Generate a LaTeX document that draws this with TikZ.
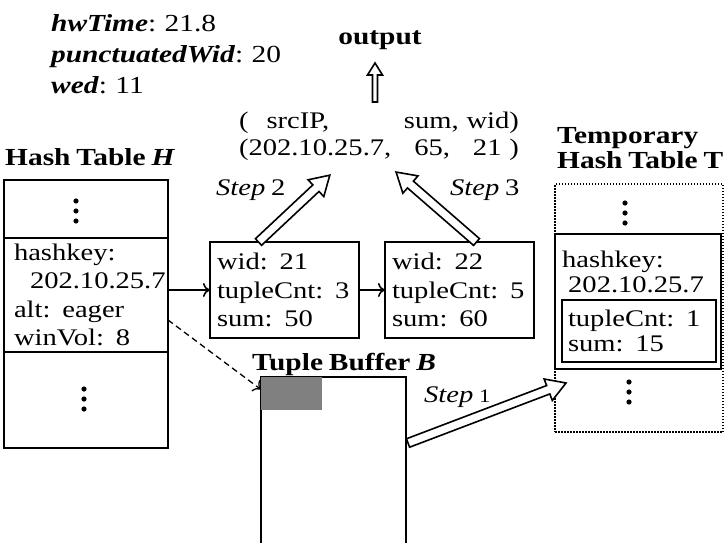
\documentclass[tikz,border=0pt]{standalone}
\usepackage{fontspec}
\setmainfont{Liberation Serif}[FakeStretch=1.2,WordSpace=0.8]
\usetikzlibrary{positioning,calc,arrows.meta}

% hollow block arrow: from, to, half shaft, half head, head length
\newcommand\hollowarrow[5]{%
  \draw[fill=white,line width=1.6pt,line join=miter]
    let \p1=(#1), \p2=(#2),
        \n1={atan2(\y2-\y1,\x2-\x1)}, \n2={veclen(\x2-\x1,\y2-\y1)} in
    [shift={(\p1)},rotate=\n1]
    (0pt,-#3pt) -- ({\n2-#5pt},-#3pt) -- ({\n2-#5pt},-#4pt) -- ({\n2+0pt},0pt)
    -- ({\n2-#5pt},#4pt) -- ({\n2-#5pt},#3pt) -- (0pt,#3pt) -- cycle;}

\begin{document}
\begin{tikzpicture}[x=1pt,y=-1pt,
    font=\fontsize{23.8}{28.5}\selectfont,
    cell/.style={draw,line width=1.8pt,outer sep=0pt,inner sep=0pt,minimum width=164pt},
    listbox/.style={draw,line width=1.8pt,outer sep=0pt,inner xsep=7pt,inner ysep=0pt,
      minimum width=149pt,minimum height=96pt,text width=135pt,align=left},
    txt/.style={inner sep=0pt},
    head/.style={inner sep=0pt,font=\fontsize{24.5}{25}\selectfont\bfseries},
    link/.style={-{To[length=7pt,width=14pt]},line width=1.6pt}]
  % Definitions
  \def\shaft{4.5}
  \def\head{11.5}
  \def\tip{19}
  \useasboundingbox (0,0) rectangle (725,543);

  % State and output tuple
  \node[txt,anchor=west,align=left,font=\fontsize{24.5}{31}\selectfont] (state) at (51,54)
    {\textbf{\textit{hwTime}}: 21.8\\\textbf{\textit{punctuatedWid}}: 20\\\textbf{\textit{wed}}: 11};
  \node[head,anchor=base] (out) at (380,45) {output};
  \node[txt,text width=280pt,align=left,font=\fontsize{23.8}{27}\selectfont] (tuple) at (379,136)
    {(\hspace{18pt}srcIP,\hfill sum, wid)\\(202.10.25.7,\hfill 65,\hfill 21 )};

  % Hash table H
  \node[head,anchor=base west] (hname) at (5,165) {Hash Table \textit{H}};
  \node[cell,anchor=north west,minimum height=58pt] (htop) at (4,180) {};
  \node[cell,below=0pt of htop,minimum height=114pt,text width=144pt,align=left] (hrow)
    {hashkey:\\\hspace*{16pt}202.10.25.7\\alt: eager\\winVol: 8};
  \node[cell,below=0pt of hrow,minimum height=96pt] (hbot) {};

  % Window list
  \node[listbox,anchor=north west] (w21) at (210,242) {wid: 21\\tupleCnt: 3\\sum: 50};
  \node[listbox,right=26pt of w21] (w22) {wid: 22\\tupleCnt: 5\\sum: 60};

  % Temporary hash table T
  \node[head,anchor=west,align=left] (tname) at (557,148) {Temporary\\Hash Table T};
  \node[draw,line width=1.5pt,dash pattern=on 1.5pt off 1.5pt,outer sep=0pt,inner sep=0pt,
    minimum width=168pt,minimum height=248pt,anchor=north west] (tmp) at (555,184) {};
  \node[draw,line width=1.8pt,outer sep=0pt,inner sep=0pt,
    minimum width=166pt,minimum height=135pt,anchor=north west] (trow) at (555,234) {};
  \node[txt,anchor=north west,align=left,font=\fontsize{23.8}{25}\selectfont] (tkey) at (562,251)
    {hashkey:\\\hspace*{6pt}202.10.25.7};
  \node[listbox,anchor=north west,minimum width=154pt,minimum height=62pt,text width=142pt,
    inner xsep=6pt,font=\fontsize{23.8}{25}\selectfont] (tcnt) at (562,300) {tupleCnt: 1\\sum: 15};

  % Tuple buffer B
  \node[head,anchor=base west] (bname) at (252,370) {Tuple Buffer \textit{B}};
  \draw[line width=1.6pt] (261,546) -- (261,377) -- (406,377) -- (406,546);
  \node[fill=gray,inner sep=0pt,outer sep=0pt,minimum width=61pt,minimum height=33pt,
    anchor=north west] (slot) at (261,377) {};

  % Dots
  \foreach \cx/\cy in {76/211,84/399,625/213,629/392} {
    \foreach \d in {-10,0,10} {
      \fill (\cx,\cy+\d) circle (2.6pt);
    };
  };

  % Connectors
  \draw[link] (hrow.east |- w21.west) -- (w21.west);
  \draw[link] (w21) -- (w22);
  \draw[link,line width=1.3pt,dash pattern=on 6pt off 4pt] ([yshift=-25pt]hrow.east) -- ([yshift=4pt]slot.west);

  % Steps
  \coordinate (ofrom) at (375,102);
  \coordinate (oto) at (375,63);
  \coordinate (s2from) at ([xshift=-26pt]w21.north);
  \coordinate (s2to) at (330,175);
  \coordinate (s3from) at ([xshift=17pt]w22.north);
  \coordinate (s3to) at (396,172);
  \coordinate (s1from) at (408,443);
  \coordinate (s1to) at (566,383);
  \hollowarrow{ofrom}{oto}{2.5}{7.5}{12}
  \hollowarrow{s2from}{s2to}{\shaft}{\head}{\tip}
  \hollowarrow{s3from}{s3to}{\shaft}{\head}{\tip}
  \hollowarrow{s1from}{s1to}{\shaft}{\head}{\tip}
  \node[txt,anchor=base west] (step2) at (216,195) {\textit{Step} 2};
  \node[txt,anchor=base west] (step3) at (450,195) {\textit{Step} 3};
  \node[txt,anchor=base west] (step1) at (424,402) {\textit{Step} {\fontsize{19}{19}\selectfont 1}};
\end{tikzpicture}
\end{document}
